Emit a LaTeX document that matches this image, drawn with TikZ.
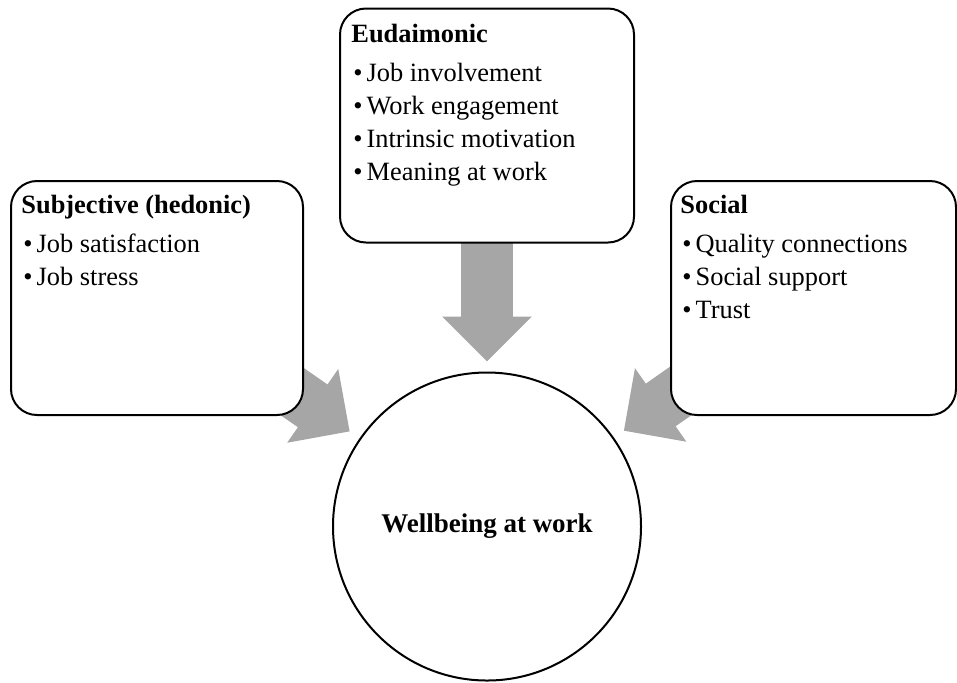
\documentclass[tikz,border=0pt]{standalone}
\usepackage{fontspec}
\setmainfont{Liberation Serif}
\usetikzlibrary{positioning,arrows.meta,backgrounds}
\definecolor{wbarrow}{RGB}{166,166,166}
\definecolor{wbline}{RGB}{0,0,0}
\newcommand{\wbitem}{\hspace{1pt}\textbullet\hspace{2pt}}
\tikzset{
  wb/.style={font=\fontsize{13.2}{16.5}\selectfont, text=black},
  wbbox/.style={
    draw=wbline, fill=white, line width=1pt, rounded corners=13pt,
    minimum width=146pt, minimum height=117pt, inner sep=0pt
  },
  wbtext/.style={wb, align=left, inner sep=0pt},
  wbcircle/.style={
    wb, font=\fontsize{13.5}{16.5}\selectfont\bfseries, circle, draw=wbline,
    fill=white, line width=1pt, minimum size=154pt, inner sep=0pt
  },
  wbarr/.style={-{Triangle[length=22.5pt,width=43.5pt]}, line width=26pt, draw=wbarrow},
}

\begin{document}
\begin{tikzpicture}[wb, x=0.5pt, y=-0.5pt]
    \useasboundingbox (0,0) rectangle (957,682);

    % Dimensionen
    \node[wbbox] (subj) at (157,298) {};
    \node[wbbox, minimum width=147pt] (eud) at (487,125.5) {};
    \node[wbbox, minimum width=142.5pt] (soc) at (813.5,298) {};
    \node[wbcircle, below=64pt of eud] (wb) {Wellbeing at work};

    % Inhalt
    \node[wbtext, below right=7.5pt and 5.5pt of subj.north west] (subjtxt)
      {\textbf{Subjective (hedonic)}\\[3pt]
       \wbitem Job satisfaction\\
       \wbitem Job stress};
    \node[wbtext, below right=8pt and 6pt of eud.north west] (eudtxt)
      {\textbf{Eudaimonic}\\[3pt]
       \wbitem Job involvement\\
       \wbitem Work engagement\\
       \wbitem Intrinsic motivation\\
       \wbitem Meaning at work};
    \node[wbtext, below right=7.5pt and 5pt of soc.north west] (soctxt)
      {\textbf{Social}\\[3pt]
       \wbitem Quality connections\\
       \wbitem Social support\\
       \wbitem Trust};

    \begin{scope}[on background layer]
      \draw[wbarr, shorten >=6pt] (subj.center) -- (wb);
      \draw[wbarr, shorten >=5pt] (eud.center) -- (wb);
      \draw[wbarr, shorten >=6pt] (soc.center) -- (wb);
    \end{scope}
  \end{tikzpicture}
\end{document}
